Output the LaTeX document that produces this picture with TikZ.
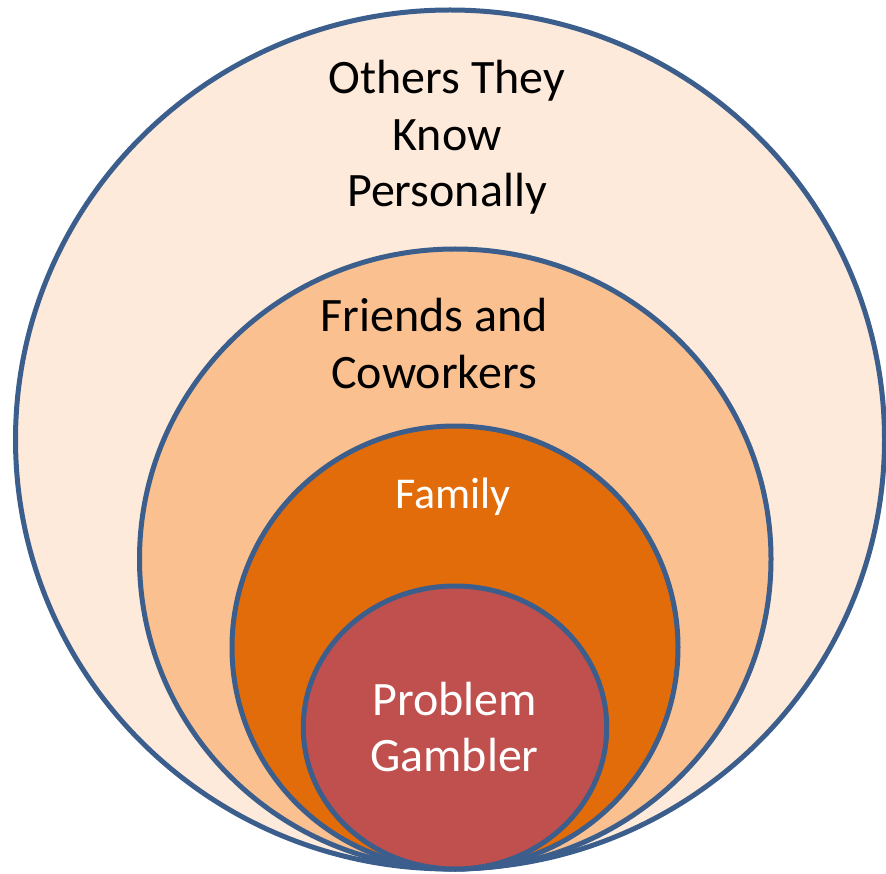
\documentclass[tikz,border=0pt]{standalone}
\usepackage{fontspec}
\setmainfont{Carlito}
\usetikzlibrary{shapes.geometric}
\definecolor{ringline}{RGB}{59,94,140}
\definecolor{fillA}{RGB}{253,234,218}
\definecolor{fillB}{RGB}{250,192,144}
\definecolor{fillC}{RGB}{227,108,10}
\definecolor{fillD}{RGB}{192,80,77}
\tikzset{
  ring/.style={ellipse, draw=ringline, line width=5pt, inner sep=0pt, outer sep=0pt},
  label/.style={align=center, inner sep=0pt, anchor=base, font=\fontsize{48}{56.5}\selectfont},
}
\begin{document}
\begin{tikzpicture}[x=1pt,y=-1pt]
\useasboundingbox (0,0) rectangle (886,874);
\fill[white] (0,0) rectangle (886,874);
\node[ring, fill=fillA, minimum width=869pt, minimum height=859pt] (others) at (450,439.5) {};
\node[ring, fill=fillB, minimum width=631.5pt, minimum height=620pt] (friends) at (455.25,559) {};
\node[ring, fill=fillC, minimum width=446pt, minimum height=443pt] (family) at (455,647.5) {};
\node[ring, fill=fillD, minimum width=303.5pt, minimum height=283pt] (gambler) at (455,727.5) {};
\node[label] (t1) at (447,207) {Others They\\Know\\Personally};
\node[label] (t2) at (434,388.3) {Friends and\\Coworkers};
\node[label, text=white, font=\fontsize{44}{50}\selectfont] (t3) at (453,508) {Family};
\node[label, text=white] (t4) at (454.5,771.7) {Problem\\Gambler};
\end{tikzpicture}
\end{document}
